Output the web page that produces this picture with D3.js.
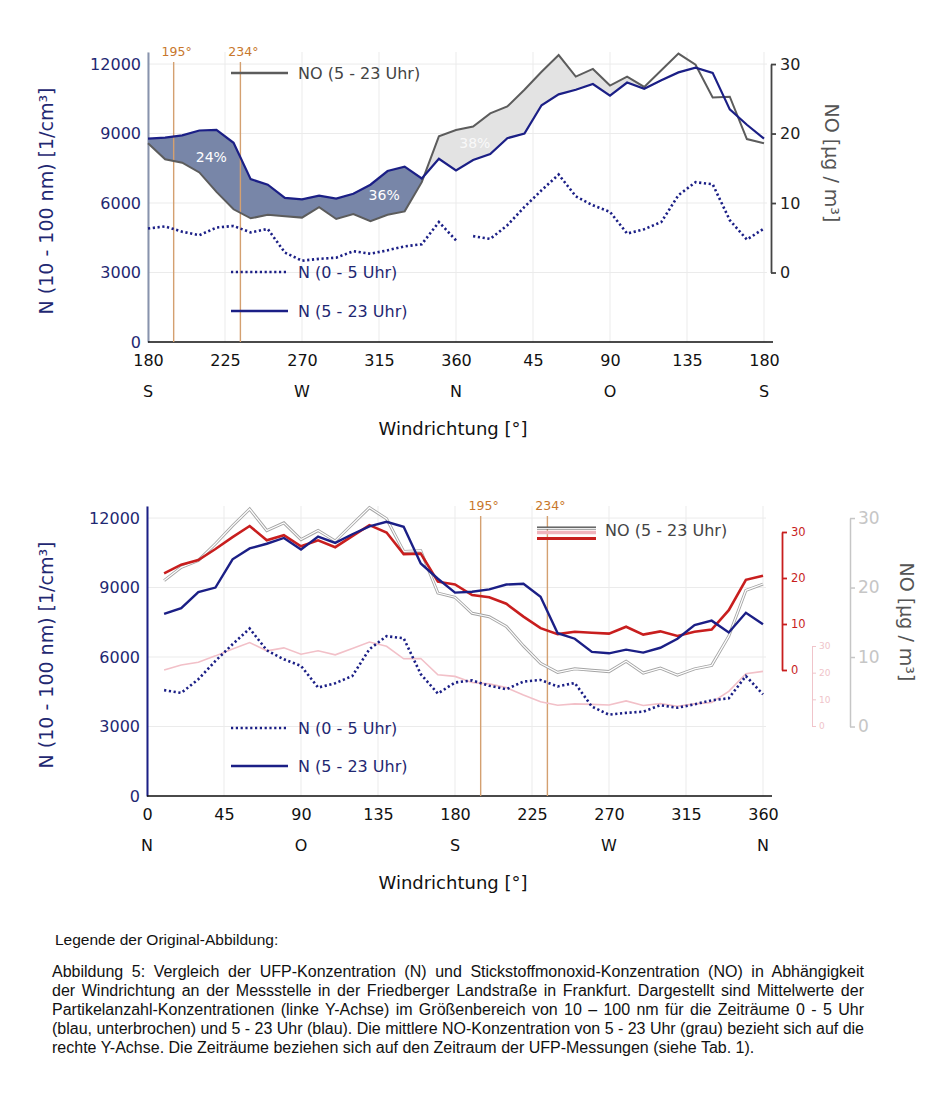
<!DOCTYPE html>
<html>
<head>
<meta charset="utf-8">
<script src="https://cdn.jsdelivr.net/npm/d3@7.9.0/dist/d3.min.js"></script>
<style>
  body { margin: 0; background: #fff; }
  text { font-family: "DejaVu Sans", Verdana, sans-serif; }
  .caption { font-family: "Liberation Sans", Arial, sans-serif; }
</style>
</head>
<body>
<svg id="chart" width="950" height="1100"></svg>
<script>
// wind direction bins (10° steps)
const angles = [10, 20, 30, 40, 50, 60, 70, 80, 90, 100, 110, 120, 130, 140, 150, 160, 170, 180,
  190, 200, 210, 220, 230, 240, 250, 260, 270, 280, 290, 300, 310, 320, 330, 340, 350, 360];
// N (5 - 23 Uhr) [1/cm3]
const nDay = [7860, 8110, 8800, 9000, 10220, 10690, 10890, 11140, 10640, 11200, 10930, 11300, 11640, 11840, 11620, 10040, 9380, 8780,
  8820, 8920, 9130, 9160, 8600, 7030, 6790, 6220, 6160, 6320, 6190, 6400, 6790, 7380, 7570, 7060, 7910, 7410];
// N (0 - 5 Uhr) [1/cm3]
const nNight = [4570, 4450, 5040, 5830, 6550, 7230, 6290, 5900, 5620, 4680, 4870, 5180, 6340, 6900, 6810, 5260, 4420, 4900,
  4990, 4760, 4610, 4940, 5010, 4730, 4880, 3860, 3510, 3590, 3640, 3920, 3810, 3960, 4130, 4220, 5180, 4390];
// NO (5 - 23 Uhr) [µg/m3]
const noDay = [21.0, 22.9, 23.9, 26.3, 28.9, 31.3, 28.2, 29.3, 26.9, 28.2, 26.7, 29.1, 31.5, 29.9, 25.2, 25.3, 19.2, 18.6,
  16.3, 15.8, 14.4, 11.6, 9.1, 7.8, 8.3, 8.1, 7.9, 9.4, 7.7, 8.4, 7.4, 8.3, 8.8, 13.0, 19.6, 20.5];

const nTicks = [0, 3000, 6000, 9000, 12000];
const noTicks = [0, 10, 20, 30];
const markAngles = [195, 234];
const fillUntil = 110;            // shaded band ends at 110°
const shares = [
  { text: '24%', angle: 217, n: 7990, op: 1 },
  { text: '36%', angle: 318, n: 6350, op: 1 },
  { text: '38%', angle: 11, n: 8600, op: 0.8 }
];
const compassTop = [[180, 'S'], [270, 'W'], [360, 'N'], [450, 'O'], [540, 'S']];
const compassBottom = [[0, 'N'], [90, 'O'], [180, 'S'], [270, 'W'], [360, 'N']];
const captionTitle = 'Legende der Original-Abbildung:';
const captionLines = [
  'Abbildung 5: Vergleich der UFP-Konzentration (N) und Stickstoffmonoxid-Konzentration (NO) in Abhängigkeit',
  'der Windrichtung an der Messstelle in der Friedberger Landstraße in Frankfurt. Dargestellt sind Mittelwerte der',
  'Partikelanzahl-Konzentrationen (linke Y-Achse) im Größenbereich von 10 – 100 nm für die Zeiträume 0 - 5 Uhr',
  '(blau, unterbrochen) und 5 - 23 Uhr (blau). Die mittlere NO-Konzentration von 5 - 23 Uhr (grau) bezieht sich auf die',
  'rechte Y-Achse. Die Zeiträume beziehen sich auf den Zeitraum der UFP-Messungen (siehe Tab. 1).'
];

const navy = '#1b1f86', navyText = '#1f2872', grayLine = '#5c5c5c';
const orange = '#d4a070', orangeText = '#c8772c', red = '#c81e1e', pink = '#f2c0c8';
const grid = '#ebebeb';

const rows = angles.map((a, i) => ({ a, n: nDay[i], night: nNight[i], no: noDay[i] }));
const svg = d3.select('#chart');
const defs = svg.append('defs');

function styleAxis(g, color, size) {
  g.selectAll('text').attr('fill', color).attr('font-size', size)
    .attr('font-family', '"DejaVu Sans", Verdana, sans-serif');
  g.selectAll('line').attr('stroke', color);
  g.select('.domain').attr('stroke', color);
}

function drawBase(x, y, xTicks, xFmt, compass, top, bottom, leftColor) {
  const [x0, x1] = x.range();
  const g = svg.append('g');
  xTicks.forEach(t => g.append('line').attr('x1', x(t)).attr('x2', x(t))
    .attr('y1', top).attr('y2', bottom).attr('stroke', grid));
  nTicks.forEach(t => g.append('line').attr('x1', x0).attr('x2', x1 + 3)
    .attr('y1', y(t)).attr('y2', y(t)).attr('stroke', grid));

  const ax = svg.append('g').attr('transform', `translate(${x0},0)`)
    .call(d3.axisLeft(y).tickValues(nTicks).tickFormat(d3.format('d'))
      .tickSize(0).tickPadding(7).tickSizeOuter(0));
  styleAxis(ax, navyText, 16);
  ax.select('.domain').attr('stroke', leftColor).attr('stroke-width', 2);

  const bx = svg.append('g').attr('transform', `translate(0,${bottom})`)
    .call(d3.axisBottom(x).tickValues(xTicks).tickFormat(xFmt).tickSize(0).tickPadding(13));
  styleAxis(bx, '#111', 16);
  bx.select('.domain').remove();
  svg.append('line').attr('x1', x0).attr('x2', x1 + 9).attr('y1', bottom).attr('y2', bottom)
    .attr('stroke', '#111').attr('stroke-width', 1.5);

  compass.forEach(([a, s]) => svg.append('text').attr('x', x(a)).attr('y', bottom + 55)
    .attr('text-anchor', 'middle').attr('font-size', 16).attr('fill', '#111').text(s));
  svg.append('text').attr('x', 453).attr('y', bottom + 93).attr('text-anchor', 'middle')
    .attr('font-size', 18).attr('fill', '#111').text('Windrichtung [°]');
  svg.append('text').attr('transform', `translate(53,${(top + bottom) / 2 + 4}) rotate(-90)`)
    .attr('text-anchor', 'middle').attr('font-size', 19).attr('fill', navyText)
    .text('N (10 - 100 nm) [1/cm³]');
}

function drawMarks(x, top, bottom) {
  markAngles.forEach(a => {
    svg.append('line').attr('x1', x(a)).attr('x2', x(a)).attr('y1', top + 10).attr('y2', bottom)
      .attr('stroke', orange).attr('stroke-width', 1.4);
    svg.append('text').attr('x', x(a) + 3).attr('y', top + 4).attr('text-anchor', 'middle')
      .attr('font-size', 12.5).attr('fill', orangeText).text(a + '°');
  });
}

function legend(items, x, tx) {
  items.forEach(it => {
    if (it.sample) it.sample(x, it.y);
    svg.append('text').attr('x', tx).attr('y', it.y + 6).attr('font-size', 16)
      .attr('fill', it.color).text(it.label);
  });
}

function rightTitle(x, y) {
  svg.append('text').attr('transform', `translate(${x},${y}) rotate(90)`)
    .attr('text-anchor', 'middle').attr('font-size', 19).attr('fill', '#555').text('NO [µg / m³]');
}

// ---------- upper chart: 180° .. 180° ----------
const topRows = rows.filter(d => d.a >= 180).map(d => ({ ...d, u: d.a }))
  .concat(rows.filter(d => d.a <= 180).map(d => ({ ...d, u: d.a + 360 })));

const xTop = d3.scaleLinear().domain([180, 540]).range([148, 764]);
const yTop = d3.scaleLinear().domain([0, 12520]).range([342, 52]);
const noTop = d3.scaleLinear().domain([0, 30]).range([yTop(3000), yTop(12000)]);

drawBase(xTop, yTop, d3.range(180, 541, 45), d => d > 360 ? d - 360 : d, compassTop, 52, 342, '#8893ad');

// band between N and NO, split where one rises above the other
const band = topRows.filter(d => d.u <= fillUntil + 360);
const bandArea = d3.area().x(d => xTop(d.u)).y0(d => noTop(d.no)).y1(d => yTop(d.n));
defs.append('clipPath').attr('id', 'aboveN').append('path')
  .attr('d', d3.area().x(d => xTop(d.u)).y0(0).y1(d => yTop(d.n))(topRows));
defs.append('clipPath').attr('id', 'belowN').append('path')
  .attr('d', d3.area().x(d => xTop(d.u)).y0(400).y1(d => yTop(d.n))(topRows));
svg.append('path').attr('d', bandArea(band)).attr('fill', '#e3e3e3').attr('clip-path', 'url(#aboveN)');
svg.append('path').attr('d', bandArea(band)).attr('fill', '#7886a8').attr('clip-path', 'url(#belowN)');

drawMarks(xTop, 52, 342);

shares.forEach(s => svg.append('text')
  .attr('x', xTop(s.angle < 180 ? s.angle + 360 : s.angle)).attr('y', yTop(s.n) + 5)
  .attr('text-anchor', 'middle').attr('font-size', 14).attr('fill', '#fff')
  .attr('fill-opacity', s.op).text(s.text));

const dotted = { stroke: navy, 'stroke-width': 2.6, 'stroke-dasharray': '2.2,2.6', fill: 'none' };
function attrs(sel, o) { Object.entries(o).forEach(([k, v]) => sel.attr(k, v)); return sel; }

const nightTop = d3.line().x(d => xTop(d.u)).y(d => yTop(d.night));
[topRows.filter(d => d.u <= 360), topRows.filter(d => d.u > 360)].forEach(seg =>
  attrs(svg.append('path').attr('d', nightTop(seg)), dotted));

svg.append('path').attr('d', d3.line().x(d => xTop(d.u)).y(d => noTop(d.no))(topRows))
  .attr('fill', 'none').attr('stroke', grayLine).attr('stroke-width', 2);
svg.append('path').attr('d', d3.line().x(d => xTop(d.u)).y(d => yTop(d.n))(topRows))
  .attr('fill', 'none').attr('stroke', navy).attr('stroke-width', 2.2);

const rTop = svg.append('g').attr('transform', 'translate(771,0)')
  .call(d3.axisRight(noTop).tickValues(noTicks).tickSize(5).tickPadding(4).tickSizeOuter(0));
styleAxis(rTop, '#222', 16);
rTop.selectAll('line, .domain').attr('stroke', '#444').attr('stroke-width', 1.8);
rightTitle(825, 163);

const solidSample = (c, w) => (x, y) => svg.append('line').attr('x1', x).attr('x2', x + 57)
  .attr('y1', y).attr('y2', y).attr('stroke', c).attr('stroke-width', w);
const dotSample = (x, y) => attrs(svg.append('path').attr('d', `M${x},${y}H${x + 57}`), dotted);

legend([
  { y: 73, label: 'NO (5 - 23 Uhr)', color: '#444', sample: solidSample(grayLine, 2.5) },
  { y: 272, label: 'N (0 - 5 Uhr)', color: navyText, sample: dotSample },
  { y: 311, label: 'N (5 - 23 Uhr)', color: navyText, sample: solidSample(navy, 2.5) }
], 231, 298);

// ---------- lower chart: 0° .. 360° ----------
const xBot = d3.scaleLinear().domain([0, 360]).range([147, 763]);
const yBot = d3.scaleLinear().domain([0, 12520]).range([796, 506]);
const noGray = d3.scaleLinear().domain([0, 30]).range([yBot(3000), yBot(12000)]);
const noRed = d3.scaleLinear().domain([0, 30]).range([670, 532]);
const noPink = d3.scaleLinear().domain([0, 30]).range([726, 646]);

drawBase(xBot, yBot, d3.range(0, 361, 45), d => d, compassBottom, 506, 796, navy);
drawMarks(xBot, 506, 796);

const lx = d3.line().x(d => xBot(d.a));
svg.append('path').attr('d', lx.y(d => noPink(d.no))(rows))
  .attr('fill', 'none').attr('stroke', pink).attr('stroke-width', 1.6);
const grayPath = lx.y(d => noGray(d.no))(rows);
svg.append('path').attr('d', grayPath).attr('fill', 'none').attr('stroke', '#a4a4a4').attr('stroke-width', 3);
svg.append('path').attr('d', grayPath).attr('fill', 'none').attr('stroke', '#fff').attr('stroke-width', 1.2);
attrs(svg.append('path').attr('d', lx.y(d => yBot(d.night))(rows)), dotted);
svg.append('path').attr('d', lx.y(d => noRed(d.no))(rows))
  .attr('fill', 'none').attr('stroke', red).attr('stroke-width', 2.6);
svg.append('path').attr('d', lx.y(d => yBot(d.n))(rows))
  .attr('fill', 'none').attr('stroke', navy).attr('stroke-width', 2.4);

const axRed = svg.append('g').attr('transform', 'translate(782,0)')
  .call(d3.axisRight(noRed).tickValues(noTicks).tickSize(5).tickPadding(4).tickSizeOuter(0));
styleAxis(axRed, red, 11.5);
axRed.selectAll('line, .domain').attr('stroke-width', 1.8);
const axPink = svg.append('g').attr('transform', 'translate(812,0)')
  .call(d3.axisRight(noPink).tickValues(noTicks).tickSize(4).tickPadding(3).tickSizeOuter(0));
styleAxis(axPink, '#f0c4ca', 9);
const axGray = svg.append('g').attr('transform', 'translate(850,0)')
  .call(d3.axisRight(noGray).tickValues(noTicks).tickSize(5).tickPadding(3).tickSizeOuter(0));
styleAxis(axGray, '#c6c6c6', 17);
axGray.selectAll('line, .domain').attr('stroke-width', 1.5);
rightTitle(900, 622);

const noBotSample = (x, y) => {
  svg.append('line').attr('x1', x).attr('x2', x + 59).attr('y1', y - 2).attr('y2', y - 2)
    .attr('stroke', '#555').attr('stroke-width', 3);
  svg.append('line').attr('x1', x).attr('x2', x + 59).attr('y1', y - 1.6).attr('y2', y - 1.6)
    .attr('stroke', '#fff').attr('stroke-width', 1);
  svg.append('line').attr('x1', x).attr('x2', x + 59).attr('y1', y + 2.5).attr('y2', y + 2.5)
    .attr('stroke', '#f0b4bd').attr('stroke-width', 3.4);
  svg.append('line').attr('x1', x).attr('x2', x + 59).attr('y1', y + 8.5).attr('y2', y + 8.5)
    .attr('stroke', red).attr('stroke-width', 3);
};
legend([{ y: 530, label: 'NO (5 - 23 Uhr)', color: '#444', sample: noBotSample }], 537, 605);
legend([
  { y: 728, label: 'N (0 - 5 Uhr)', color: navyText, sample: dotSample },
  { y: 766, label: 'N (5 - 23 Uhr)', color: navyText, sample: solidSample(navy, 2.5) }
], 231, 298);

// ---------- caption ----------
svg.append('text').attr('class', 'caption').attr('x', 55).attr('y', 945)
  .attr('font-size', 15.5).attr('fill', '#111').text(captionTitle);
const capWidth = 812;
captionLines.forEach((s, i) => {
  const t = svg.append('text').attr('class', 'caption').attr('x', 52).attr('y', 977 + i * 19)
    .attr('font-size', 16).attr('fill', '#111').text(s);
  if (i < captionLines.length - 1) {
    const w = t.node().getComputedTextLength();
    const gaps = s.split(' ').length - 1;
    t.attr('word-spacing', (capWidth - w) / gaps);
  }
});
</script>
</body>
</html>
